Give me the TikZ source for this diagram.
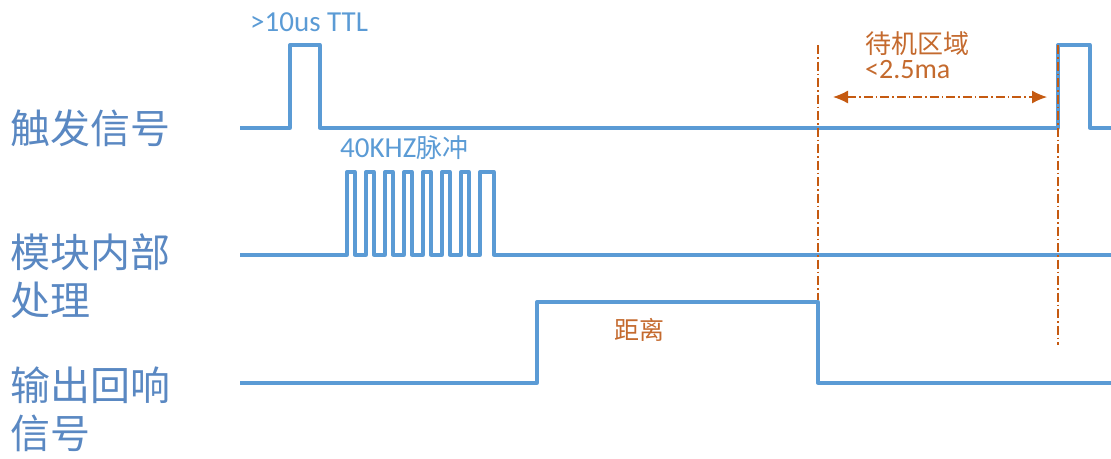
\documentclass[tikz,border=0pt]{standalone}
\usepackage{fontspec}
\setmainfont{Carlito}
\newfontfamily\cjk{Noto Sans CJK SC}
\usetikzlibrary{arrows.meta,positioning}
\definecolor{sigblue}{HTML}{5B9BD5}
\definecolor{lblblue}{HTML}{5A88C2}
\definecolor{markorange}{HTML}{C55A11}
\definecolor{txtorange}{HTML}{C46A2E}
\begin{document}
\begin{tikzpicture}[x=1pt,y=-1pt,
	sig/.style={draw=sigblue,line width=3.3pt,line join=round},
	signame/.style={inner sep=0pt,anchor=west,align=left,text=lblblue,font=\cjk\fontsize{40}{48}\selectfont},
	sigtag/.style={inner sep=0pt,anchor=west,text=sigblue,font=\fontsize{29}{32}\selectfont},
	idletxt/.style={inner sep=0pt,anchor=west,text=txtorange,font=\fontsize{28}{30}\selectfont},
	guide/.style={draw=markorange,line width=1.2pt,dash pattern=on 9pt off 3pt on 1.5pt off 3pt},
	idlespan/.style={guide,{Latex[length=15pt,width=13pt]}-{Latex[length=15pt,width=13pt]}}]
	\useasboundingbox (0,0) rectangle (1111,458);

	% labels on the left
	\node[signame] (trig) at (10,128) {触发信号};
	\node[signame] (proc) at (10,276) {模块内部\\处理};
	\node[signame] (echo) at (10,409) {输出回响\\信号};

	% signals
	\draw[sig] (240,128) -- (290,128) -- (290,45) -- (320,45) -- (320,128)
		-- (1058,128) -- (1058,45) -- (1090,45) -- (1090,128) -- (1111,128);
	\draw[sig] (240,255) -- (347,255)
		foreach \i in {1,...,7} { -- ++(0,-83) -- ++(8,0) -- ++(0,83) -- ++(11,0) }
		-- ++(0,-83) -- ++(14,0) -- ++(0,83) -- (1111,255);
	\draw[sig] (240,383) -- (537,383) -- (537,302) -- (818,302) -- (818,383) -- (1111,383);

	\node[sigtag] (ttl) at (250,22) {>10us TTL};
	\node[sigtag] (burst) at (340,148) {40KHZ{\cjk\fontsize{26}{30}\selectfont 脉冲}};
	\node[idletxt,font=\cjk\fontsize{25}{30}\selectfont] (dist) at (614,330) {距离};

	% idle zone
	\coordinate (idleL) at (818,45);
	\coordinate (idleR) at (1058,45);
	\coordinate (idleLb) at (818,300);
	\coordinate (idleRb) at (1058,345);
	\draw[guide] (idleL) -- (idleLb);
	\draw[guide] (idleR) -- (idleRb);
	\coordinate (arrL) at (833,97);
	\coordinate (arrR) at (1047,97);
	\draw[idlespan] (arrL) -- (arrR);
	\node[idletxt,font=\cjk\fontsize{26}{30}\selectfont] (idle) at (865,44) {待机区域};
	\node[idletxt] (amp) [below=4pt of idle.south west,anchor=north west] {<2.5ma};
\end{tikzpicture}
\end{document}
